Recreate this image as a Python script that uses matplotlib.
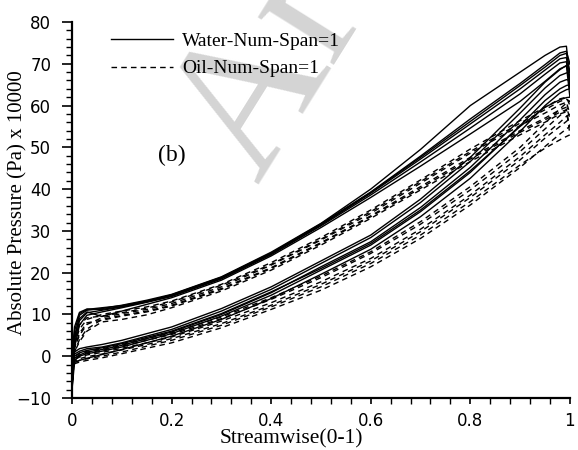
import matplotlib
matplotlib.use("Agg")
import matplotlib.pyplot as plt
from matplotlib.ticker import MultipleLocator

# stations along the blade (streamwise 0-1)
xs = [0, 0.005, 0.015, 0.03, 0.06, 0.1, 0.15, 0.2, 0.3, 0.4, 0.5,
      0.6, 0.7, 0.8, 0.9, 0.95, 0.98, 0.993, 1.0]

# water, upper side of each loop (Pa x 10000)
water_upper = [
    [-3, 4, 9.8, 11.0, 11.4, 12.2, 13.4, 14.8, 19.0, 24.9, 31.8, 40.0, 49.5, 60.0, 68.0, 72.0, 74.0, 74.2, 66],
    [-1, 6, 10.2, 11.2, 11.6, 12.1, 13.2, 14.6, 18.8, 24.6, 31.5, 39.2, 47.6, 56.2, 64.8, 69.2, 72.0, 72.5, 68],
    [-6, 3, 8.5, 10.4, 11.0, 11.8, 13.0, 14.4, 18.6, 24.4, 31.4, 39.0, 47.2, 55.6, 64.0, 68.5, 71.2, 71.5, 65],
    [0, 7, 10.5, 11.3, 11.2, 11.9, 13.1, 14.7, 18.9, 24.7, 31.7, 39.3, 47.9, 56.8, 65.3, 69.8, 72.6, 73.0, 70],
    [-8, 2, 7.5, 9.8, 10.6, 11.6, 12.9, 14.3, 18.5, 24.3, 31.2, 38.6, 46.5, 54.6, 62.8, 67.5, 70.2, 70.5, 64],
    [-2, 5, 9.0, 10.6, 9.5, 10.8, 12.4, 14.0, 18.2, 24.0, 30.8, 38.0, 45.5, 53.2, 61.0, 65.8, 68.8, 69.5, 62],
]
# water, lower side of each loop
water_lower = [
    [-3, -0.5, 0.3, 1.0, 1.6, 2.6, 4.2, 5.8, 10.0, 15.2, 21.4, 27.4, 35.6, 45.2, 56.6, 62.6, 65.6, 66.2, 66],
    [-1, 0.5, 1.2, 1.8, 2.2, 3.2, 4.8, 6.4, 10.8, 16.0, 22.2, 28.4, 36.8, 46.6, 58.2, 64.2, 67.2, 67.8, 68],
    [-6, -1.0, 0.0, 0.6, 1.2, 2.2, 3.8, 5.4, 9.6, 14.6, 20.6, 26.6, 34.6, 44.0, 55.2, 61.2, 64.0, 64.8, 65],
    [0, 1.0, 1.8, 2.2, 2.8, 3.8, 5.4, 7.0, 11.4, 16.6, 22.8, 29.0, 37.6, 47.6, 59.4, 65.6, 68.6, 69.6, 70],
    [-8, -1.5, -1.0, -0.5, 0.4, 1.6, 3.2, 4.8, 8.8, 13.8, 19.6, 25.6, 33.4, 42.6, 53.8, 60.0, 63.0, 63.8, 64],
    [-2, 0.0, 0.8, 1.4, 2.0, 3.0, 4.5, 6.0, 10.2, 15.4, 21.0, 27.0, 35.0, 44.4, 55.0, 59.6, 61.4, 61.9, 62],
]
# oil, upper side
oil_upper = [
    [-2, 3, 6.5, 8.8, 10.0, 10.8, 11.8, 13.2, 17.2, 22.4, 28.4, 35.0, 42.2, 49.6, 56.4, 59.6, 61.6, 62.0, 60],
    [-1, 2, 5.0, 7.6, 9.2, 10.2, 11.2, 12.6, 16.6, 21.8, 27.8, 34.2, 41.4, 48.6, 55.2, 58.2, 60.2, 60.8, 58],
    [-4, 1, 4.0, 6.5, 8.8, 9.8, 10.8, 12.2, 16.2, 21.2, 27.2, 33.6, 40.6, 47.6, 54.0, 57.0, 59.0, 59.6, 57],
    [0, 4, 7.5, 9.2, 9.6, 10.4, 11.5, 13.0, 17.0, 22.0, 28.0, 34.6, 41.8, 49.0, 55.8, 59.0, 61.0, 61.5, 61],
    [-5, 1, 3.5, 6.0, 8.2, 8.8, 9.9, 11.6, 15.6, 20.6, 26.6, 33.0, 39.8, 46.6, 53.0, 56.0, 58.0, 58.5, 55],
    [-3, 2, 5.5, 8.0, 8.6, 9.6, 10.6, 12.0, 16.0, 21.0, 27.0, 33.4, 40.2, 47.2, 53.6, 56.6, 58.4, 59.0, 53],
]
# oil, lower side
oil_lower = [
    [-2, -0.5, 0.2, 0.8, 1.4, 2.4, 3.8, 5.2, 9.0, 13.6, 18.8, 24.6, 31.6, 39.8, 49.0, 54.4, 57.6, 59.0, 60],
    [-1, -0.8, -0.2, 0.3, 0.9, 1.9, 3.2, 4.6, 8.4, 12.8, 17.8, 23.4, 30.4, 38.6, 47.8, 53.0, 56.0, 57.4, 58],
    [-4, -1.2, -0.6, -0.1, 0.5, 1.5, 2.8, 4.2, 7.8, 12.2, 17.2, 22.8, 29.8, 38.0, 47.0, 52.2, 55.0, 56.2, 57],
    [0, 0.0, 0.6, 1.2, 1.8, 2.8, 4.2, 5.6, 9.4, 14.0, 19.2, 25.0, 32.2, 40.6, 50.0, 55.8, 59.2, 60.6, 61],
    [-5, -1.8, -1.4, -1.0, -0.4, 0.6, 1.9, 3.2, 6.8, 11.2, 15.8, 21.4, 28.2, 36.2, 45.2, 50.2, 53.2, 54.4, 55],
    [-3, -1.5, -1.0, -0.6, 0.0, 1.0, 2.4, 3.8, 7.4, 11.8, 16.6, 22.2, 29.0, 37.0, 45.8, 49.8, 51.8, 52.6, 53],
]

serif = "Liberation Serif"

fig = plt.figure(figsize=(5.78, 4.5), dpi=100)
ax = fig.add_axes([0.1246, 0.1156, 0.8614, 0.8355])
ax.patch.set_alpha(0)
ax.set_zorder(2)

# faint scan watermark behind the plot
fig.text(0.445, 0.59, "Arc", rotation=58, fontsize=140, family=serif,
         color="#d4d4d4", ha="left", va="baseline", rotation_mode="anchor", zorder=1)

loop_x = xs + xs[::-1]
for up, lo in zip(water_upper, water_lower):
    ax.plot(loop_x, up + lo[::-1], color="black", lw=1.0, solid_joinstyle="round")
for up, lo in zip(oil_upper, oil_lower):
    ax.plot(loop_x, up + lo[::-1], color="black", lw=1.0, ls=(0, (4, 3)))

ax.plot([], [], color="black", lw=1.0, label="Water-Num-Span=1")
ax.plot([], [], color="black", lw=1.0, ls=(0, (4, 3)), label="Oil-Num-Span=1")
h, l = ax.get_legend_handles_labels()
ax.legend(h[-2:], l[-2:], loc="upper left", bbox_to_anchor=(0.078, 0.972), frameon=False,
          prop={"family": serif, "size": 14}, handlelength=3.2, handletextpad=0.45,
          labelspacing=0.5, borderpad=0, borderaxespad=0)

ax.text(0.2, 48, "(b)", family=serif, fontsize=17, ha="center", va="center")

ax.set_xlim(0, 1)
ax.set_ylim(-10, 80)
ax.xaxis.set_major_locator(MultipleLocator(0.2))
ax.xaxis.set_minor_locator(MultipleLocator(0.04))
ax.yaxis.set_major_locator(MultipleLocator(10))
ax.yaxis.set_minor_locator(MultipleLocator(2))
ax.xaxis.set_major_formatter(plt.FuncFormatter(lambda v, p: f"{v:g}"))

for s in ["top", "right"]:
    ax.spines[s].set_visible(False)
for s in ["left", "bottom"]:
    ax.spines[s].set_linewidth(1.6)

ax.tick_params(axis="x", which="major", direction="out", length=4, width=1.2, pad=6, labelsize=12)
ax.tick_params(axis="x", which="minor", direction="out", length=4, width=1.0)
ax.tick_params(axis="y", which="major", direction="out", length=7, width=1.2, pad=8, labelsize=12)
ax.tick_params(axis="y", which="minor", direction="out", length=4, width=1.0)

ax.set_xlabel("Streamwise(0-1)", family=serif, fontsize=15.5)
ax.xaxis.set_label_coords(0.44, -0.084)
ax.set_ylabel("Absolute Pressure (Pa) x 10000", family=serif, fontsize=15)
ax.yaxis.set_label_coords(-0.09, 0.52)

fig.savefig("out.png", dpi=100)
